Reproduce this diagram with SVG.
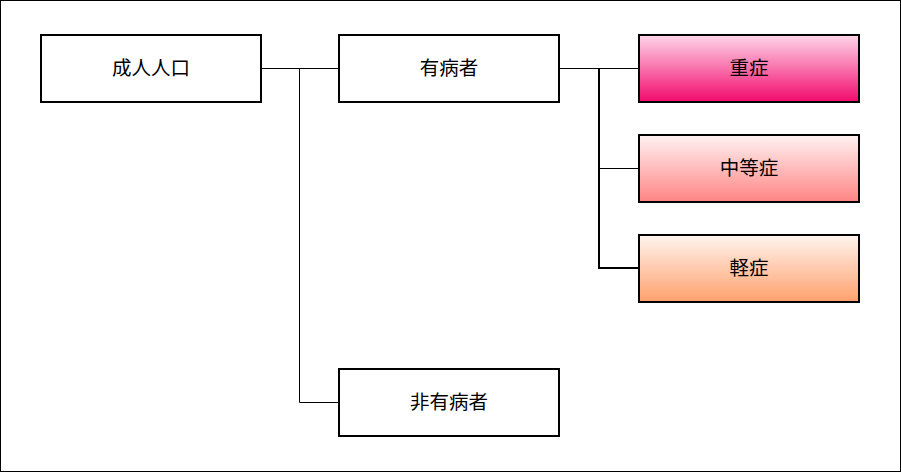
<svg xmlns="http://www.w3.org/2000/svg" width="901" height="472" viewBox="0 0 901 472">
<defs>
<linearGradient id="g1" x1="0" y1="0" x2="0" y2="1"><stop offset="0" stop-color="#ffd6ea"/><stop offset="1" stop-color="#f20a6c"/></linearGradient>
<linearGradient id="g2" x1="0" y1="0" x2="0" y2="1"><stop offset="0" stop-color="#fff2f2"/><stop offset="1" stop-color="#ff8484"/></linearGradient>
<linearGradient id="g3" x1="0" y1="0" x2="0" y2="1"><stop offset="0" stop-color="#fff4ee"/><stop offset="1" stop-color="#ffa06c"/></linearGradient>
<style>
.box{stroke:#000;stroke-width:2;fill:#fff}
.t{font-family:"Noto Sans CJK JP","Noto Sans CJK SC",sans-serif;font-size:19.5px;fill:#000;text-anchor:middle;dominant-baseline:central}
.c{fill:none;stroke:#000;stroke-width:1}
.ct{fill:none;stroke:#000;stroke-width:2}
</style>
</defs>
<rect x="0.5" y="0.5" width="900" height="471" fill="#fff" stroke="#000" stroke-width="1"/>
<g id="connectors">
<path class="c" d="M261 68.5H338M299.5 68.5V402.5H338"/>
<path class="c" d="M559 68.5H638M599.5 168.5H638"/>
<path class="ct" d="M599 68V268H638"/>
</g>
<g id="n1"><rect class="box" x="41" y="35" width="220" height="67"/><text class="t" x="151" y="66">成人人口</text></g>
<g id="n2"><rect class="box" x="339" y="35" width="220" height="67"/><text class="t" x="449" y="66">有病者</text></g>
<g id="n3"><rect class="box" x="339" y="369" width="220" height="67"/><text class="t" x="449" y="400">非有病者</text></g>
<g id="n4"><rect class="box" x="639" y="35" width="220" height="67" style="fill:url(#g1)"/><text class="t" x="749" y="66">重症</text></g>
<g id="n5"><rect class="box" x="639" y="135" width="220" height="67" style="fill:url(#g2)"/><text class="t" x="749" y="166">中等症</text></g>
<g id="n6"><rect class="box" x="639" y="235" width="220" height="67" style="fill:url(#g3)"/><text class="t" x="749" y="266">軽症</text></g>
</svg>
